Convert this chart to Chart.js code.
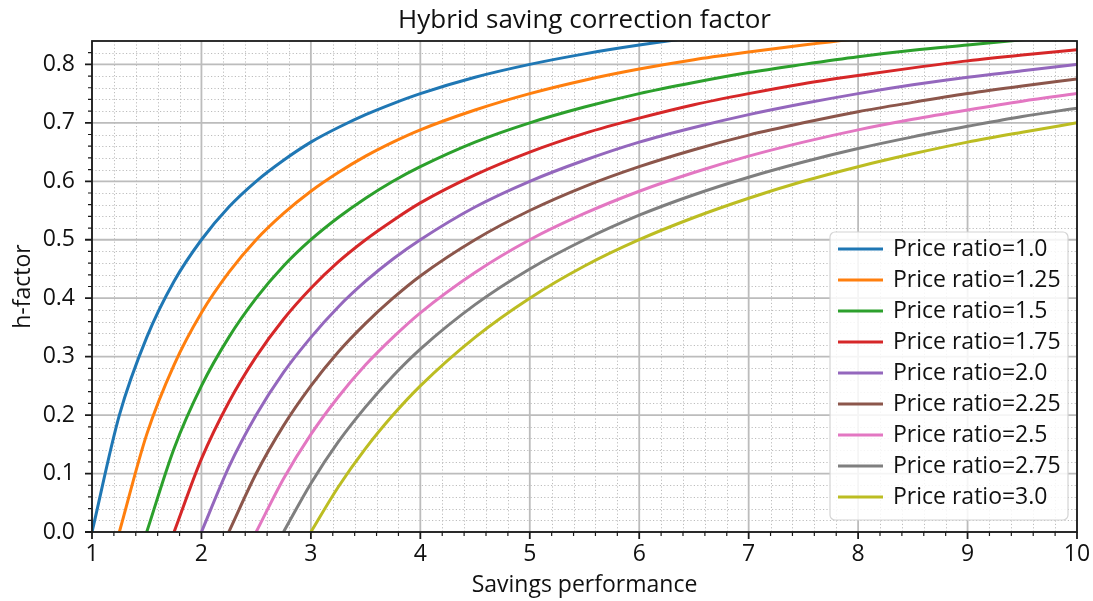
<!DOCTYPE html>
<html>
<head>
<meta charset="utf-8">
<title>Hybrid saving correction factor</title>
<script src="https://cdn.jsdelivr.net/npm/chart.js@4.4.0/dist/chart.umd.min.js"></script>
<style>
  html, body { margin: 0; padding: 0; background: #fff; }
</style>
</head>
<body>
<canvas id="chart" width="1093" height="601"></canvas>
<script>
// Values
const savingsPerformance = [1, 1.25, 1.5, 1.75, 2, 2.25, 2.5, 2.75, 3, 3.25, 3.5, 3.75, 4, 4.5, 5, 5.5, 6, 6.5, 7, 7.5, 8, 8.5, 9, 9.5, 10];

const ratio100 = [0, 0.2, 0.333, 0.429, 0.5, 0.556, 0.6, 0.636, 0.667, 0.692, 0.714, 0.733, 0.75, 0.778, 0.8, 0.818, 0.833, 0.846, 0.857, 0.867, 0.875, 0.882, 0.889, 0.895, 0.9];
const ratio125 = [null, 0, 0.167, 0.286, 0.375, 0.444, 0.5, 0.545, 0.583, 0.615, 0.643, 0.667, 0.688, 0.722, 0.75, 0.773, 0.792, 0.808, 0.821, 0.833, 0.844, 0.853, 0.861, 0.868, 0.875];
const ratio150 = [null, null, 0, 0.143, 0.25, 0.333, 0.4, 0.455, 0.5, 0.538, 0.571, 0.6, 0.625, 0.667, 0.7, 0.727, 0.75, 0.769, 0.786, 0.8, 0.813, 0.824, 0.833, 0.842, 0.85];
const ratio175 = [null, null, null, 0, 0.125, 0.222, 0.3, 0.364, 0.417, 0.462, 0.5, 0.533, 0.563, 0.611, 0.65, 0.682, 0.708, 0.731, 0.75, 0.767, 0.781, 0.794, 0.806, 0.816, 0.825];
const ratio200 = [null, null, null, null, 0, 0.111, 0.2, 0.273, 0.333, 0.385, 0.429, 0.467, 0.5, 0.556, 0.6, 0.636, 0.667, 0.692, 0.714, 0.733, 0.75, 0.765, 0.778, 0.789, 0.8];
const ratio225 = [null, null, null, null, null, 0, 0.1, 0.182, 0.25, 0.308, 0.357, 0.4, 0.438, 0.5, 0.55, 0.591, 0.625, 0.654, 0.679, 0.7, 0.719, 0.735, 0.75, 0.763, 0.775];
const ratio250 = [null, null, null, null, null, null, 0, 0.091, 0.167, 0.231, 0.286, 0.333, 0.375, 0.444, 0.5, 0.545, 0.583, 0.615, 0.643, 0.667, 0.688, 0.706, 0.722, 0.737, 0.75];
const ratio275 = [null, null, null, null, null, null, null, 0, 0.083, 0.154, 0.214, 0.267, 0.313, 0.389, 0.45, 0.5, 0.542, 0.577, 0.607, 0.633, 0.656, 0.676, 0.694, 0.711, 0.725];
const ratio300 = [null, null, null, null, null, null, null, null, 0, 0.077, 0.143, 0.2, 0.25, 0.333, 0.4, 0.455, 0.5, 0.538, 0.571, 0.6, 0.625, 0.647, 0.667, 0.684, 0.7];

const seriesLabels = ['Price ratio=1.0', 'Price ratio=1.25', 'Price ratio=1.5', 'Price ratio=1.75', 'Price ratio=2.0',
    'Price ratio=2.25', 'Price ratio=2.5', 'Price ratio=2.75', 'Price ratio=3.0'];
const seriesValues = [ratio100, ratio125, ratio150, ratio175, ratio200, ratio225, ratio250, ratio275, ratio300];
const seriesColors = ['#1f77b4', '#ff7f0e', '#2ca02c', '#d62728', '#9467bd', '#8c564b', '#e377c2', '#7f7f7f', '#bcbd22'];

const xTicks = [1, 2, 3, 4, 5, 6, 7, 8, 9, 10];
const yTicks = [0, 0.1, 0.2, 0.3, 0.4, 0.5, 0.6, 0.7, 0.8];

const FONT = '"Open Sans", sans-serif';

// Build {x, y} points, skip the part of each curve before it starts
function toPoints(values) {
    const pts = [];
    values.forEach((v, i) => {
        if (v !== null) pts.push({ x: savingsPerformance[i], y: v });
    });
    return pts;
}

// Minor ticks: 4 between each pair of majors
function minorTicks(major) {
    const out = [];
    for (let i = 0; i < major.length - 1; i++) {
        const step = (major[i + 1] - major[i]) / 5;
        for (let k = 1; k < 5; k++) out.push(major[i] + k * step);
    }
    return out;
}

// Matplotlib-like grid, ticks, frame, title and legend
const mplLook = {
    id: 'mplLook',
    beforeDatasetsDraw(chart) {
        const { ctx, chartArea: a, scales: { x, y } } = chart;
        const yMinor = minorTicks(yTicks.concat([0.9])).filter(v => v < 0.84);
        const xMinor = minorTicks(xTicks);
        ctx.save();

        // minor dotted grid
        ctx.strokeStyle = '#bdbdbd';
        ctx.lineWidth = 1;
        ctx.setLineDash([1.2, 2.2]);
        ctx.beginPath();
        xMinor.forEach(v => {
            const px = Math.round(x.getPixelForValue(v)) + 0.5;
            ctx.moveTo(px, a.top); ctx.lineTo(px, a.bottom);
        });
        yMinor.forEach(v => {
            const py = Math.round(y.getPixelForValue(v)) + 0.5;
            ctx.moveTo(a.left, py); ctx.lineTo(a.right, py);
        });
        ctx.stroke();

        // major solid grid
        ctx.setLineDash([]);
        ctx.strokeStyle = '#bcbcbc';
        ctx.lineWidth = 1.8;
        ctx.beginPath();
        xTicks.forEach(v => {
            const px = x.getPixelForValue(v);
            ctx.moveTo(px, a.top); ctx.lineTo(px, a.bottom);
        });
        yTicks.forEach(v => {
            const py = y.getPixelForValue(v);
            ctx.moveTo(a.left, py); ctx.lineTo(a.right, py);
        });
        ctx.stroke();
        ctx.restore();
    },
    afterDatasetsDraw(chart) {
        const { ctx, chartArea: a, scales: { x, y } } = chart;
        const yMinor = minorTicks(yTicks.concat([0.9])).filter(v => v < 0.84);
        const xMinor = minorTicks(xTicks);
        ctx.save();

        // frame
        ctx.strokeStyle = '#1a1a1a';
        ctx.lineWidth = 1.8;
        ctx.strokeRect(a.left, a.top, a.right - a.left, a.bottom - a.top);

        // tick marks
        ctx.beginPath();
        xTicks.forEach(v => {
            const px = x.getPixelForValue(v);
            ctx.moveTo(px, a.bottom); ctx.lineTo(px, a.bottom + 7);
        });
        yTicks.forEach(v => {
            const py = y.getPixelForValue(v);
            ctx.moveTo(a.left, py); ctx.lineTo(a.left - 7, py);
        });
        ctx.stroke();
        ctx.lineWidth = 1.2;
        ctx.beginPath();
        xMinor.forEach(v => {
            const px = x.getPixelForValue(v);
            ctx.moveTo(px, a.bottom); ctx.lineTo(px, a.bottom + 4);
        });
        yMinor.forEach(v => {
            const py = y.getPixelForValue(v);
            ctx.moveTo(a.left, py); ctx.lineTo(a.left - 4, py);
        });
        ctx.stroke();

        // title
        ctx.fillStyle = '#111';
        ctx.font = '26px ' + FONT;
        ctx.textAlign = 'center';
        ctx.textBaseline = 'alphabetic';
        ctx.fillText('Hybrid saving correction factor', (a.left + a.right) / 2, 28);

        // legend box in lower right corner
        const boxRight = a.right - 9, boxBottom = a.bottom - 12;
        const boxW = 238, boxH = 288;
        const bx = boxRight - boxW, by = boxBottom - boxH;
        ctx.beginPath();
        ctx.roundRect(bx, by, boxW, boxH, 5);
        ctx.fillStyle = 'rgba(255,255,255,0.85)';
        ctx.fill();
        ctx.strokeStyle = '#d4d4d4';
        ctx.lineWidth = 1.2;
        ctx.stroke();

        ctx.font = '23px ' + FONT;
        ctx.textAlign = 'left';
        ctx.textBaseline = 'middle';
        chart.data.datasets.forEach((ds, i) => {
            const ry = by + 17 + i * 31;
            ctx.strokeStyle = ds.borderColor;
            ctx.lineWidth = 3;
            ctx.beginPath();
            ctx.moveTo(bx + 8, ry); ctx.lineTo(bx + 53, ry);
            ctx.stroke();
            ctx.fillStyle = '#111';
            ctx.fillText(ds.label, bx + 63, ry);
        });
        ctx.restore();
    }
};

const ctx = document.getElementById('chart').getContext('2d');
new Chart(ctx, {
    type: 'line',
    data: {
        datasets: seriesLabels.map((label, i) => ({
            label: label,
            data: toPoints(seriesValues[i]),
            borderColor: seriesColors[i],
            backgroundColor: seriesColors[i],
            borderWidth: 3,
            pointRadius: 0,
            fill: false,
            cubicInterpolationMode: 'monotone'
        }))
    },
    options: {
        responsive: false,
        animation: false,
        devicePixelRatio: 1,
        layout: { padding: { top: 41, right: 16, left: 0, bottom: 0 } },
        scales: {
            x: {
                type: 'linear',
                min: 1,
                max: 10,
                afterBuildTicks: s => { s.ticks = xTicks.map(v => ({ value: v })); },
                afterFit: s => { s.height = 69; s.paddingLeft = 0; s.paddingRight = 0; },
                ticks: {
                    padding: 9,
                    color: '#111',
                    font: { family: FONT, size: 23 },
                    callback: v => String(v)
                },
                grid: { display: false, drawTicks: false },
                border: { display: false },
                title: {
                    display: true,
                    text: 'Savings performance',
                    color: '#111',
                    font: { family: FONT, size: 23 },
                    padding: { top: 0, bottom: 2 }
                }
            },
            y: {
                min: 0,
                max: 0.84,
                afterBuildTicks: s => { s.ticks = yTicks.map(v => ({ value: v })); },
                afterFit: s => { s.width = 92; s.paddingTop = 0; s.paddingBottom = 0; },
                ticks: {
                    padding: 17,
                    color: '#111',
                    font: { family: FONT, size: 23 },
                    callback: v => Number(v).toFixed(1)
                },
                grid: { display: false, drawTicks: false },
                border: { display: false },
                title: {
                    display: true,
                    text: 'h-factor',
                    color: '#111',
                    font: { family: FONT, size: 23 },
                    padding: { top: 10, bottom: 8 }
                }
            }
        },
        plugins: {
            legend: { display: false },
            title: { display: false },
            tooltip: { enabled: false }
        }
    },
    plugins: [mplLook]
});
</script>
</body>
</html>
